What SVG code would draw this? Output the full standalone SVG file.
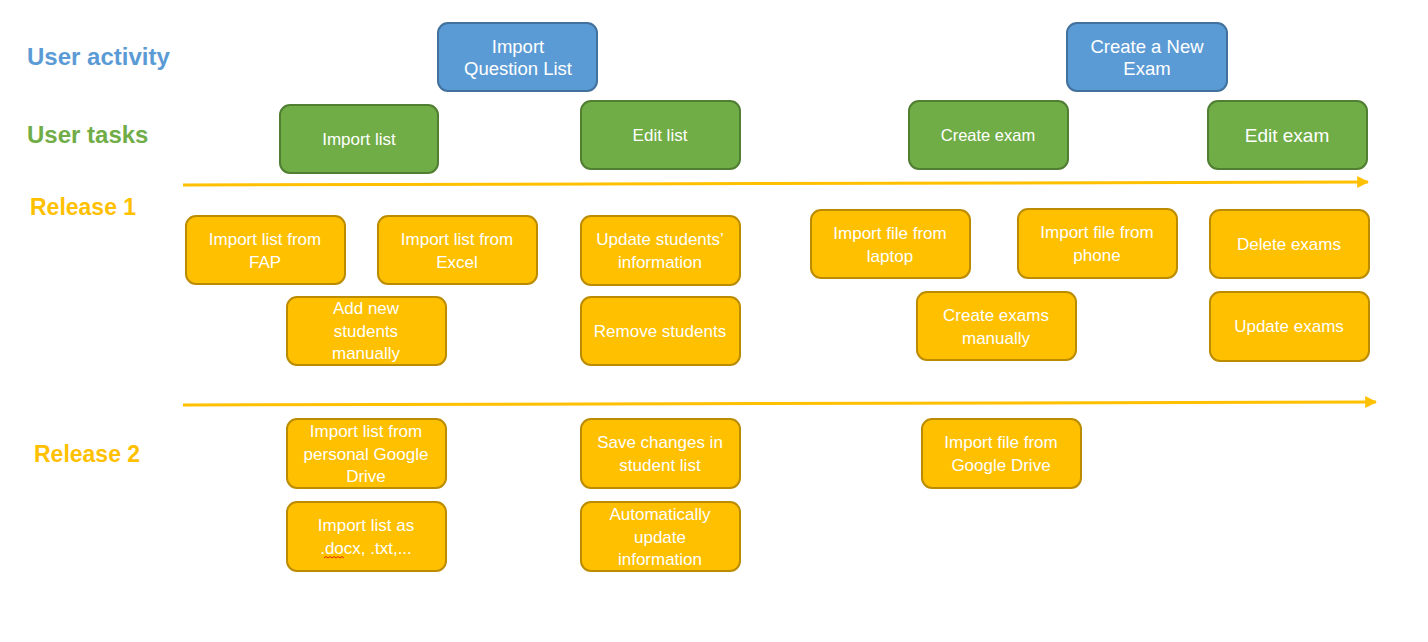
<svg xmlns="http://www.w3.org/2000/svg" width="1428" height="642" viewBox="0 0 1428 642">
<style>
text{font-family:"Liberation Sans",Arial,sans-serif;}
.lbl{font-weight:bold;}
.blue rect{fill:#5B9BD5;stroke:#41719C;stroke-width:2;}
.green rect{fill:#70AD47;stroke:#507E32;stroke-width:2;}
.yel rect{fill:#FFC000;stroke:#BC8C00;stroke-width:2;}
.node text{fill:#FFFFFF;text-anchor:middle;font-size:17px;}
.conn line{stroke:#FFC000;stroke-width:3;}
</style>
<defs>
<marker id="ah" viewBox="0 0 10 10" refX="9" refY="5" markerWidth="4" markerHeight="4" orient="auto" markerUnits="strokeWidth">
<path d="M0,0 L10,5 L0,10 z" fill="#FFC000"/>
</marker>
</defs>
<rect width="1428" height="642" fill="#FFFFFF"/>

<g id="labels" class="lbl">
<text x="27" y="65" font-size="24" fill="#5B9BD5">User activity</text>
<text x="27" y="143" font-size="24" fill="#70AD47">User tasks</text>
<text x="30" y="215" font-size="23" fill="#FFC000">Release 1</text>
<text x="34" y="462" font-size="23" fill="#FFC000">Release 2</text>
</g>

<g id="connectors" class="conn">
<line x1="183" y1="185" x2="1368" y2="182" marker-end="url(#ah)"/>
<line x1="183" y1="405" x2="1376" y2="402" marker-end="url(#ah)"/>
</g>

<g id="act-import" class="node blue"><rect x="438" y="23" width="159" height="68" rx="10"/>
<text x="518" y="53" font-size="18.5" style="font-size:18.5px">Import</text><text x="518" y="75" style="font-size:18.5px">Question List</text></g>
<g id="act-create" class="node blue"><rect x="1067" y="23" width="160" height="68" rx="10"/>
<text x="1147" y="53" style="font-size:18.5px">Create a New</text><text x="1147" y="75" style="font-size:18.5px">Exam</text></g>

<g id="task-import" class="node green"><rect x="280" y="105" width="158" height="68" rx="10"/>
<text x="359" y="145">Import list</text></g>
<g id="task-edit" class="node green"><rect x="581" y="101" width="159" height="68" rx="10"/>
<text x="660" y="141">Edit list</text></g>
<g id="task-create" class="node green"><rect x="909" y="101" width="159" height="68" rx="10"/>
<text x="988" y="141" style="font-size:16.5px">Create exam</text></g>
<g id="task-editexam" class="node green"><rect x="1208" y="101" width="159" height="68" rx="10"/>
<text x="1287" y="142" style="font-size:19px">Edit exam</text></g>

<g id="r1-fap" class="node yel"><rect x="186" y="216" width="159" height="68" rx="10"/>
<text x="265" y="245">Import list from</text><text x="265" y="268">FAP</text></g>
<g id="r1-excel" class="node yel"><rect x="378" y="216" width="159" height="68" rx="10"/>
<text x="457" y="245">Import list from</text><text x="457" y="268">Excel</text></g>
<g id="r1-update" class="node yel"><rect x="581" y="216" width="159" height="69" rx="10"/>
<text x="660" y="245">Update students’</text><text x="660" y="268">information</text></g>
<g id="r1-add" class="node yel"><rect x="287" y="297" width="159" height="68" rx="10"/>
<text x="366" y="314">Add new</text><text x="366" y="337">students</text><text x="366" y="359">manually</text></g>
<g id="r1-remove" class="node yel"><rect x="581" y="297" width="159" height="68" rx="10"/>
<text x="660" y="337">Remove students</text></g>
<g id="r1-laptop" class="node yel"><rect x="811" y="210" width="159" height="68" rx="10"/>
<text x="890" y="239">Import file from</text><text x="890" y="262">laptop</text></g>
<g id="r1-phone" class="node yel"><rect x="1018" y="209" width="159" height="69" rx="10"/>
<text x="1097" y="238">Import file from</text><text x="1097" y="261">phone</text></g>
<g id="r1-manual" class="node yel"><rect x="917" y="292" width="159" height="68" rx="10"/>
<text x="996" y="321">Create exams</text><text x="996" y="344">manually</text></g>
<g id="r1-delete" class="node yel"><rect x="1210" y="210" width="159" height="68" rx="10"/>
<text x="1289" y="250">Delete exams</text></g>
<g id="r1-updexam" class="node yel"><rect x="1210" y="292" width="159" height="69" rx="10"/>
<text x="1289" y="332">Update exams</text></g>

<g id="r2-gdrive" class="node yel"><rect x="287" y="419" width="159" height="69" rx="10"/>
<text x="366" y="437">Import list from</text><text x="366" y="460">personal Google</text><text x="366" y="482">Drive</text></g>
<g id="r2-save" class="node yel"><rect x="581" y="419" width="159" height="69" rx="10"/>
<text x="660" y="448">Save changes in</text><text x="660" y="471">student list</text></g>
<g id="r2-filegd" class="node yel"><rect x="922" y="419" width="159" height="69" rx="10"/>
<text x="1001" y="448">Import file from</text><text x="1001" y="471">Google Drive</text></g>
<g id="r2-docx" class="node yel"><rect x="287" y="502" width="159" height="69" rx="10"/>
<text x="366" y="531">Import list as</text><text x="366" y="554">.docx, .txt,...</text>
<path d="M324,558 l2,-1.5 l2,1.5 l2,-1.5 l2,1.5 l2,-1.5 l2,1.5 l2,-1.5 l2,1.5 l2,-1.5 l2,1.5" fill="none" stroke="#E00000" stroke-width="0.8"/></g>
<g id="r2-auto" class="node yel"><rect x="581" y="502" width="159" height="69" rx="10"/>
<text x="660" y="520">Automatically</text><text x="660" y="543">update</text><text x="660" y="565">information</text></g>
</svg>
